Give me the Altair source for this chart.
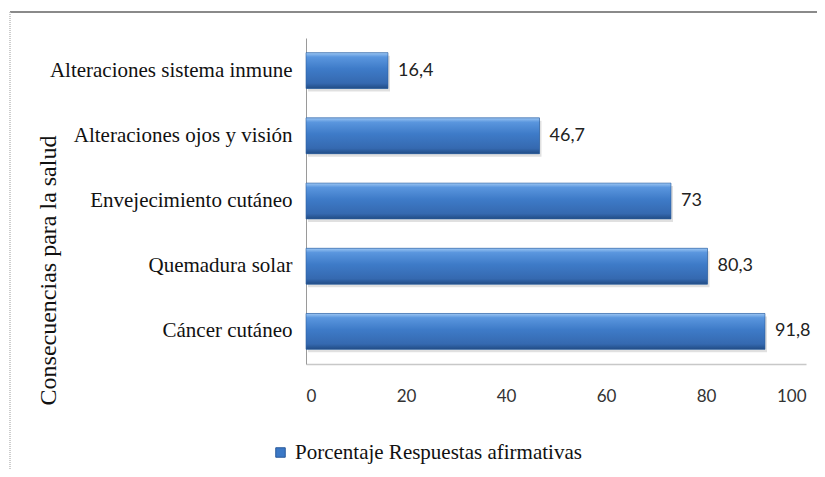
import altair as alt
import pandas as pd

categorias = ["Alteraciones sistema inmune", "Alteraciones ojos y  visión",
              "Envejecimiento cutáneo", "Quemadura solar", "Cáncer cutáneo"]
valores = [16.4, 46.7, 73, 80.3, 91.8]
etiquetas = ["16,4", "46,7", "73", "80,3", "91,8"]
serie = "Porcentaje Respuestas afirmativas"
ticks_x = [0, 20, 40, 60, 80, 100]

df = pd.DataFrame({"cat": categorias, "val": valores, "lab": etiquetas, "serie": serie})
frame = pd.DataFrame({"k": [0]})

y_enc = alt.Y("cat:N", sort=categorias,
              scale=alt.Scale(paddingInner=0.45, paddingOuter=0.225),
              axis=alt.Axis(title="Consecuencias para la salud", titleFont="Liberation Serif",
                            titleFontSize=24, titleFontWeight="normal", titleColor="#111",
                            titleAngle=270, titleAlign="center", titleBaseline="middle",
                            titleX=-258, titleY=232,
                            labelFont="Liberation Serif", labelFontSize=21, labelColor="#111",
                            labelPadding=14, labelLimit=320, ticks=False,
                            domainColor="#9a9a9a", domainWidth=1))
x_enc = alt.X("val:Q", scale=alt.Scale(domain=[0, 100], nice=False),
              axis=alt.Axis(title=None, values=ticks_x, grid=False, ticks=False,
                            labelFont="Lato", labelFontSize=17, labelColor="#333",
                            labelPadding=24, domainColor="#c8c8c8", domainWidth=1.5))

legend_bars = alt.Chart(df).mark_bar().encode(
    x=x_enc, y=y_enc,
    color=alt.Color("serie:N", scale=alt.Scale(range=["#3b78c6"]),
                    legend=alt.Legend(title=None, orient="none", legendX=-36, legendY=404,
                                      symbolType="square", symbolSize=90,
                                      symbolStrokeColor="#2a5a9a", symbolStrokeWidth=1,
                                      labelFont="Liberation Serif", labelFontSize=21,
                                      labelColor="#111", labelLimit=450, labelOffset=4))
)

shadow = alt.Chart(df).mark_bar(color="#000", opacity=0.12, xOffset=2, yOffset=3).encode(
    x="val:Q", y=alt.Y("cat:N", sort=categorias)
)

grad = alt.Gradient(gradient="linear", x1=0, y1=0, x2=0, y2=1, stops=[
    alt.GradientStop(offset=0, color="#9cc6f3"),
    alt.GradientStop(offset=0.12, color="#5a96de"),
    alt.GradientStop(offset=0.45, color="#3e7bc8"),
    alt.GradientStop(offset=0.85, color="#3569b0"),
    alt.GradientStop(offset=1, color="#214c85"),
])
bars = alt.Chart(df).mark_bar(color=grad, stroke="#2d5f9e", strokeWidth=0.6).encode(
    x="val:Q", y=alt.Y("cat:N", sort=categorias)
)

labels = alt.Chart(df).mark_text(align="left", baseline="middle", dx=10, font="Lato",
                                 fontSize=18, color="#222").encode(
    x="val:Q", y=alt.Y("cat:N", sort=categorias), text="lab:N"
)

top_border = alt.Chart(frame).mark_rule(color="#8a8a8a", strokeWidth=2).encode(
    x=alt.value(-296), x2=alt.value(520), y=alt.value(-26)
)
left_border = alt.Chart(frame).mark_rule(color="#bdbdbd", strokeWidth=1.5, strokeDash=[1, 1]).encode(
    x=alt.value(-296), y=alt.value(-26), y2=alt.value(500)
)

chart = alt.layer(legend_bars, shadow, bars, labels, top_border, left_border).properties(
    width=500, height=326,
    padding={"left": 298, "top": 30, "right": 11, "bottom": 105},
    autosize=alt.AutoSizeParams(type="none"),
).configure(background="white").configure_view(stroke=None)

chart.save("out.html", embed_options={"renderer": "svg", "actions": False})
